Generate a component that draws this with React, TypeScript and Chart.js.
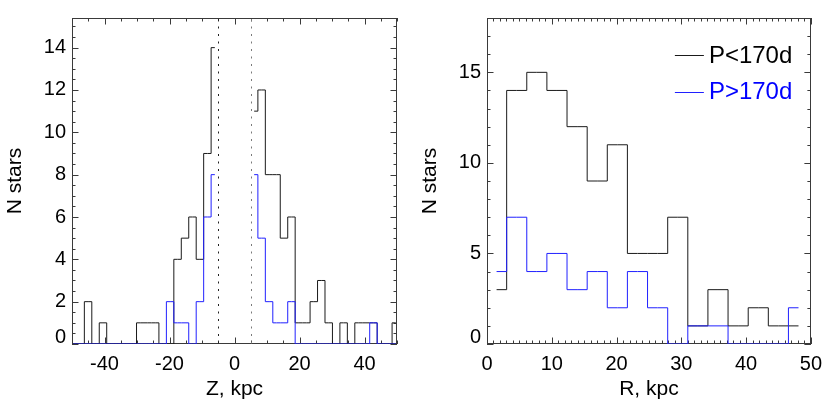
import React, { useEffect, useRef } from "react";
import { Chart, registerables } from "chart.js";

Chart.register(...registerables);

// ---------- data: left panel (Z histogram) ----------
const zCentersSouth = [-49.64, -47.35, -45.05, -42.76, -40.47, -38.17, -35.88, -33.58, -31.29, -29.0, -26.7, -24.4, -22.11, -19.81, -17.52, -15.23, -12.93, -10.64, -8.34, -6.05];
const zCentersNorth = [6.05, 8.34, 10.64, 12.93, 15.23, 17.52, 19.81, 22.11, 24.4, 26.7, 28.99, 31.28, 33.58, 35.87, 38.17, 40.46, 42.75, 45.05, 47.34, 49.64];
const zShortSouth = [0, 0, 2, 0, 1, 0, 0, 0, 0, 1, 1, 1, 0, 0, 4, 5, 6, 4, 9, 14];
const zLongSouth = [0, 0, 0, 0, 0, 0, 0, 0, 0, 0, 0, 0, 0, 2, 1, 1, 0, 2, 6, 8];
const zShortNorth = [11, 12, 8, 8, 5, 6, 1, 1, 2, 3, 1, 0, 1, 0, 1, 1, 1, 0, 0, 1];
const zLongNorth = [8, 5, 2, 1, 1, 2, 0, 0, 0, 0, 0, 0, 0, 0, 0, 0, 1, 0, 0, 0];
const zMarkers = [-5, 5];

// ---------- data: right panel (R histogram) ----------
const rCenters = [1.48, 4.59, 7.69, 10.8, 13.91, 17.02, 20.12, 23.23, 26.34, 29.45, 32.55, 35.66, 38.77, 41.88, 44.98, 48.09];
const rShort = [3, 14, 15, 14, 12, 9, 11, 5, 5, 7, 1, 3, 1, 2, 1, 1];
const rLong = [4, 7, 4, 5, 3, 4, 2, 4, 2, 0, 1, 1, 0, 0, 0, 2];

// ---------- axes ----------
const zTicks = [-40, -20, 0, 20, 40];
const nZTicks = [0, 2, 4, 6, 8, 10, 12, 14];
const rTicks = [0, 10, 20, 30, 40, 50];
const nRTicks = [0, 5, 10, 15];
const seriesLabels = ["P<170d", "P>170d"];

const FONT = "'Liberation Sans', Arial, Helvetica, sans-serif";
const BLACK = "#1a1a1a";
const BLUE = "#2020ff";
const AXIS = "#3a3a3a";

type Pt = { x: number; y: number | null };
const toPts = (xs: number[], ys: number[]): Pt[] => xs.map((x, i) => ({ x, y: ys[i] }));

const idlPlugin = {
  id: "idlFrame",
  beforeDatasetsDraw(chart: any) {
    const o = chart.options.plugins.idlFrame;
    if (!o) return;
    const { ctx, chartArea } = chart;
    const xs = chart.scales.x;
    const ys = chart.scales.y;
    const L = chartArea.left, R = chartArea.right, T = chartArea.top, B = chartArea.bottom;
    ctx.save();
    ctx.strokeStyle = AXIS;
    ctx.lineWidth = 1;
    ctx.strokeRect(Math.round(L) + 0.5, Math.round(T) + 0.5, Math.round(R - L) - 1, Math.round(B - T) - 1);
    const snap = (p: number) => Math.round(p) + 0.5;
    const drawX = (v: number, len: number) => {
      const px = snap(xs.getPixelForValue(v));
      ctx.beginPath();
      ctx.moveTo(px, B); ctx.lineTo(px, B - len);
      ctx.moveTo(px, T); ctx.lineTo(px, T + len);
      ctx.stroke();
    };
    const drawY = (v: number, len: number) => {
      const py = snap(ys.getPixelForValue(v));
      ctx.beginPath();
      ctx.moveTo(L, py); ctx.lineTo(L + len, py);
      ctx.moveTo(R, py); ctx.lineTo(R - len, py);
      ctx.stroke();
    };
    for (let v = xs.min; v <= xs.max + 1e-9; v += o.xMinor) drawX(v, 3.5);
    for (const v of o.xMajor) drawX(v, 6.5);
    for (let v = ys.min; v <= ys.max + 1e-9; v += o.yMinor) drawY(v, 3.5);
    for (const v of o.yMajor) drawY(v, 6.5);
    // dotted markers
    if (o.markers) {
      o.markers.forEach((m: number, i: number) => {
        const px = snap(xs.getPixelForValue(m));
        ctx.strokeStyle = i === 0 ? "#222" : "#7a7a7a";
        ctx.setLineDash([2, 5.5]);
        ctx.beginPath();
        ctx.moveTo(px, T + 1);
        ctx.lineTo(px, B);
        ctx.stroke();
      });
      ctx.setLineDash([]);
    }
    ctx.restore();
  },
  afterDatasetsDraw(chart: any) {
    const o = chart.options.plugins.idlFrame;
    if (!o || !o.legend) return;
    const { ctx, chartArea } = chart;
    const R = chartArea.right, T = chartArea.top;
    const rows = [
      { text: o.legend[0], color: BLACK, tcolor: "#000000", y: T + 37 },
      { text: o.legend[1], color: BLUE, tcolor: "#0000ff", y: T + 73.5 },
    ];
    ctx.save();
    ctx.font = `24px ${FONT}`;
    ctx.textBaseline = "middle";
    ctx.textAlign = "left";
    rows.forEach((r) => {
      ctx.strokeStyle = r.color;
      ctx.lineWidth = 1;
      ctx.beginPath();
      ctx.moveTo(R - 136, Math.round(r.y) + 0.5);
      ctx.lineTo(R - 107, Math.round(r.y) + 0.5);
      ctx.stroke();
      ctx.fillStyle = r.tcolor;
      ctx.fillText(r.text, R - 102, r.y + 1);
    });
    ctx.restore();
  },
};

function makeOptions(p: {
  xMin: number; xMax: number; yMax: number; xTicks: number[]; yTicks: number[];
  xTitle: string; xMinor: number; yMinor: number; yTitlePad: number;
  markers?: number[]; legend?: string[];
}) {
  return {
    responsive: false,
    devicePixelRatio: 1,
    animation: false,
    events: [],
    layout: { padding: { left: 0, right: 18, top: 9, bottom: 0 } },
    elements: { point: { radius: 0 }, line: { borderWidth: 1, tension: 0 } },
    plugins: {
      legend: { display: false },
      tooltip: { enabled: false },
      idlFrame: {
        xMajor: p.xTicks, yMajor: p.yTicks, xMinor: p.xMinor, yMinor: p.yMinor,
        markers: p.markers, legend: p.legend,
      },
    },
    scales: {
      x: {
        type: "linear",
        min: p.xMin,
        max: p.xMax,
        afterBuildTicks: (s: any) => { s.ticks = p.xTicks.map((v) => ({ value: v })); },
        afterFit: (s: any) => { s.height = 71; },
        grid: { display: false, drawTicks: false },
        border: { display: false },
        ticks: {
          autoSkip: false, maxRotation: 0, padding: 8, color: "#000",
          font: { family: FONT, size: 20 },
          callback: (v: number) => String(v),
        },
        title: {
          display: true, text: p.xTitle, color: "#000",
          font: { family: FONT, size: 21 },
          padding: { top: 0, bottom: 13 },
        },
      },
      y: {
        type: "linear",
        min: 0,
        max: p.yMax,
        afterBuildTicks: (s: any) => { s.ticks = p.yTicks.map((v) => ({ value: v })); },
        afterFit: (s: any) => { s.width = 72; },
        grid: { display: false, drawTicks: false },
        border: { display: false },
        ticks: {
          autoSkip: false, padding: 6, color: "#000",
          font: (c: any) =>
            c.tick && c.tick.value === 0
              ? { family: FONT, size: 20, lineHeight: "14px" }
              : { family: FONT, size: 20 },
          callback: (v: number) => (v === 0 ? ["0", ""] : String(v)),
        },
        title: {
          display: true, text: "N stars", color: "#000",
          font: { family: FONT, size: 21 },
          padding: { top: p.yTitlePad, bottom: 0 },
        },
      },
    },
  };
}

function Panel({ left, build }: { left: number; build: (c: HTMLCanvasElement) => Chart }) {
  const ref = useRef<HTMLCanvasElement | null>(null);
  useEffect(() => {
    if (!ref.current) return;
    const chart = build(ref.current);
    return () => chart.destroy();
  }, []);
  return (
    <canvas
      ref={ref}
      width={415}
      height={415}
      style={{ position: "absolute", left, top: 0, width: 415, height: 415 }}
    />
  );
}

export default function App() {
  const buildZ = (c: HTMLCanvasElement) =>
    new Chart(c, {
      type: "line",
      data: {
        datasets: [
          {
            label: seriesLabels[1],
            data: [...toPts(zCentersSouth, zLongSouth), { x: 0, y: null }, ...toPts(zCentersNorth, zLongNorth)],
            borderColor: BLUE, stepped: "middle", spanGaps: false, fill: false,
          },
          {
            label: seriesLabels[0],
            data: [...toPts(zCentersSouth, zShortSouth), { x: 0, y: null }, ...toPts(zCentersNorth, zShortNorth)],
            borderColor: BLACK, stepped: "middle", spanGaps: false, fill: false,
          },
        ],
      },
      options: makeOptions({
        xMin: -50, xMax: 50, yMax: 15.4, xTicks: zTicks, yTicks: nZTicks,
        xTitle: "Z, kpc", xMinor: 5, yMinor: 0.5, yTitlePad: 3, markers: zMarkers,
      }) as any,
      plugins: [idlPlugin],
    });

  const buildR = (c: HTMLCanvasElement) =>
    new Chart(c, {
      type: "line",
      data: {
        datasets: [
          { label: seriesLabels[1], data: toPts(rCenters, rLong), borderColor: BLUE, stepped: "middle", fill: false },
          { label: seriesLabels[0], data: toPts(rCenters, rShort), borderColor: BLACK, stepped: "middle", fill: false },
        ],
      },
      options: makeOptions({
        xMin: 0, xMax: 50, yMax: 18, xTicks: rTicks, yTicks: nRTicks,
        xTitle: "R, kpc", xMinor: 1, yMinor: 1, yTitlePad: 3, legend: seriesLabels,
      }) as any,
      plugins: [idlPlugin],
    });

  return (
    <div style={{ position: "absolute", left: 0, top: 0, width: 830, height: 415, background: "#fff" }}>
      <Panel left={0} build={buildZ} />
      <Panel left={415} build={buildR} />
    </div>
  );
}
